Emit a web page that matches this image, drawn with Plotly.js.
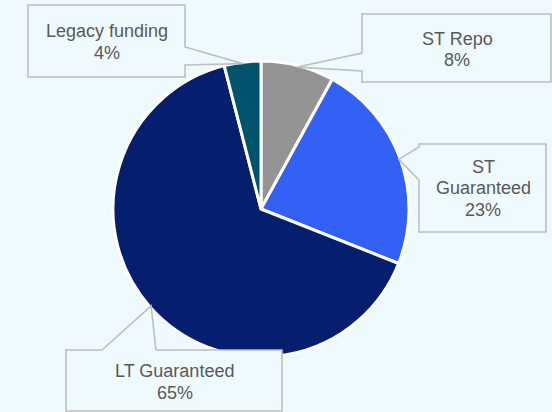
<!DOCTYPE html>
<html><head><meta charset="utf-8">
<script src="https://cdn.plot.ly/plotly-3.0.1.min.js"></script>
<style>html,body{margin:0;padding:0;background:#EEFAFE;}</style>
</head><body><div id="chart" style="width:552px;height:412px;"></div>
<script>
// ---- data ----
const categories = ['ST Repo', 'ST Guaranteed', 'LT Guaranteed', 'Legacy funding'];
const values = [8, 23, 65, 4];
const labelLines = [['ST Repo'], ['ST', 'Guaranteed'], ['LT Guaranteed'], ['Legacy funding']];
const colors = ['#949494', '#3361F6', '#061E6E', '#00536C'];

// ---- layout helpers ----
const W = 552, H = 412, CX = 261, CY = 209, R = 148;
const px = x => x / W, py = y => 1 - y / H;

// callout boxes (pixel layout)
const boxes = [
  {x0: 362, y0: 14,  x1: 551, y1: 82,  side: 'left',  b0: 53,  b1: 71,  tx: 457,   base: 45,   step: 21},
  {x0: 419, y0: 144, x1: 546, y1: 232, side: 'left',  b0: 147, b1: 180, tx: 483,   base: 173,  step: 21.8},
  {x0: 66,  y0: 350, x1: 282, y1: 411, side: 'top',   b0: 102, b1: 156, tx: 174.5, base: 377,  step: 22},
  {x0: 28,  y0: 5,   x1: 185, y1: 77,  side: 'right', b0: 47,  b1: 65,  tx: 107,   base: 37.3, step: 22}
];

const total = values.reduce((a, b) => a + b, 0);
let cum = 0;
const shapes = [], annotations = [];
values.forEach((v, i) => {
  const mid = (cum + v / 2) / total * 2 * Math.PI;
  cum += v;
  const tipX = CX + R * 0.99 * Math.sin(mid);
  const tipY = CY - R * 0.99 * Math.cos(mid);
  const b = boxes[i];
  const P = (x, y) => `${px(x)},${py(y)}`;
  let path;
  if (b.side === 'left') {
    path = `M${P(b.x0,b.y0)} L${P(b.x1,b.y0)} L${P(b.x1,b.y1)} L${P(b.x0,b.y1)} L${P(b.x0,b.b1)} L${P(tipX,tipY)} L${P(b.x0,b.b0)} Z`;
  } else if (b.side === 'right') {
    path = `M${P(b.x0,b.y0)} L${P(b.x1,b.y0)} L${P(b.x1,b.b0)} L${P(tipX,tipY)} L${P(b.x1,b.b1)} L${P(b.x1,b.y1)} L${P(b.x0,b.y1)} Z`;
  } else {
    path = `M${P(b.x0,b.y0)} L${P(b.b0,b.y0)} L${P(tipX,tipY)} L${P(b.b1,b.y0)} L${P(b.x1,b.y0)} L${P(b.x1,b.y1)} L${P(b.x0,b.y1)} Z`;
  }
  shapes.push({type: 'path', xref: 'paper', yref: 'paper', path: path,
    fillcolor: '#EEFAFE', line: {color: '#BFBFBF', width: 1.6}, layer: 'above'});
  const lines = labelLines[i].concat([Math.round(v / total * 100) + '%']);
  lines.forEach((t, k) => {
    annotations.push({xref: 'paper', yref: 'paper', x: px(b.tx), y: py(b.base + k * b.step - 6.3),
      xanchor: 'center', yanchor: 'middle', showarrow: false, text: t,
      font: {family: 'Liberation Sans, Arial, sans-serif', size: 18, color: '#595959'}});
  });
});

const trace = {
  type: 'pie', labels: categories, values: values, sort: false, direction: 'clockwise', rotation: 0,
  textinfo: 'none', hoverinfo: 'skip', showlegend: false,
  marker: {colors: colors, line: {color: '#FFFFFF', width: 3}},
  domain: {x: [px(CX - R), px(CX + R)], y: [py(CY + R), py(CY - R)]}
};

Plotly.newPlot('chart', [trace], {
  width: W, height: H, margin: {l: 0, r: 0, t: 0, b: 0},
  paper_bgcolor: '#EEFAFE', plot_bgcolor: '#EEFAFE',
  shapes: shapes, annotations: annotations
}, {staticPlot: true});
</script></body></html>
